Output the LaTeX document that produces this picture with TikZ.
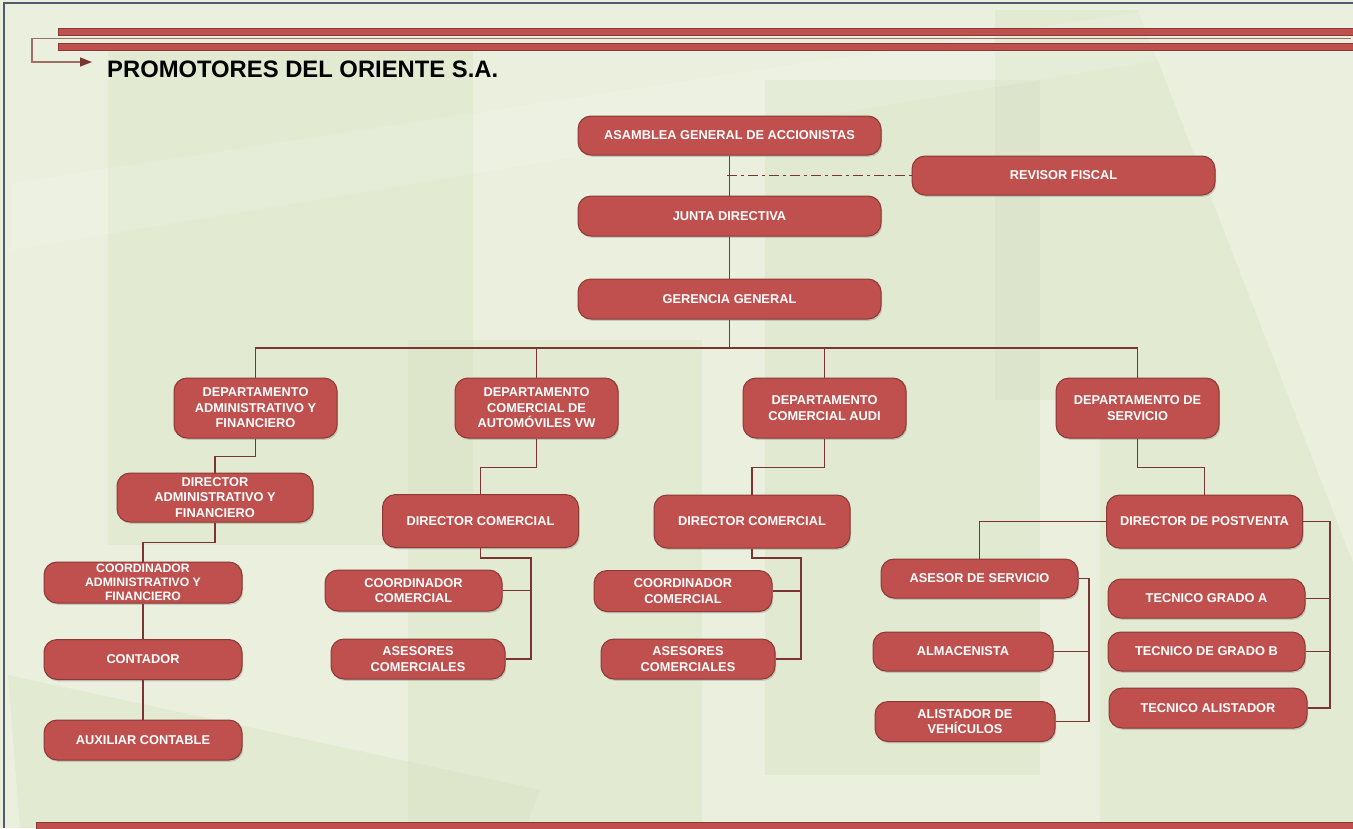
\documentclass[tikz,border=0pt]{standalone}
\usepackage{fontspec}
\setmainfont{Liberation Sans}
\usepackage{xcolor}
\usetikzlibrary{shapes, arrows, arrows.meta, shadows}
\definecolor{cajaRoja}{RGB}{192,80,77}
\definecolor{bordeRojo}{RGB}{140,56,54}
\definecolor{lineaRoja}{RGB}{122,52,50}
\definecolor{fondo}{RGB}{234,240,221}
\definecolor{panel}{RGB}{212,224,192}
\definecolor{marco}{RGB}{80,92,110}
\definecolor{franja}{RGB}{158,110,104}
\tikzstyle{cargo} = [rectangle, draw=bordeRojo, line width=1pt, fill=cajaRoja, rounded corners=13pt, text=white, align=center, font=\bfseries\fontsize{12.8}{15.5}\selectfont, minimum width=197pt, minimum height=40pt, inner sep=1pt, drop shadow={shadow xshift=1.2pt, shadow yshift=-1.8pt, opacity=0.35}]
\tikzstyle{depto} = [cargo, minimum width=163pt, minimum height=60pt]
\tikzstyle{conn} = [draw=lineaRoja, line width=1.2pt]

\begin{document}
\begin{tikzpicture}[x=1pt, y=-1pt]
    \useasboundingbox (0,0) rectangle (1353,828);
    \fill[fondo] (0,0) rectangle (1353,828);
    \fill[panel, opacity=0.35] (108,50) rectangle (473,545);
    \fill[panel, opacity=0.35] (408,340) rectangle (702,828);
    \fill[panel, opacity=0.40] (765,80) rectangle (1040,775);
    \fill[panel, opacity=0.35] (995,10) -- (1138,10) -- (1353,563) -- (1353,828) -- (1100,828) -- (1100,400) -- (995,400) -- cycle;
    \fill[panel, opacity=0.35] (8,675) -- (540,790) -- (525,828) -- (20,828) -- cycle;
    \fill[white, opacity=0.12] (12,183) -- (1140,12) -- (1160,60) -- (12,250) -- cycle;
    \draw[marco, line width=1.2pt] (4,828) -- (4,3) -- (1353,3);

    \draw[bordeRojo, fill=cajaRoja, line width=0.8pt] (58,28) rectangle (1356,35);
    \draw[bordeRojo, fill=cajaRoja, line width=0.8pt] (58,43) rectangle (1356,50);
    \draw[bordeRojo, fill=cajaRoja, line width=0.8pt] (36,822) rectangle (1356,832);
    \coordinate (bandStart) at (1351,38.7);
    \coordinate (bandCorner) at (32,62);
    \coordinate (bandEnd) at (92,62);
    \draw[franja, line width=1.5pt, -{Triangle[length=12pt, width=9pt, color=lineaRoja]}] (bandStart) -| (bandCorner) -- (bandEnd);
    \node(titulo)[anchor=base west, inner sep=0pt, font=\bfseries\fontsize{23.8}{28}\selectfont] at (107,77) {PROMOTORES DEL ORIENTE S.A.};

    \node(asamblea)[cargo, minimum width=303pt, minimum height=39pt] at (729.5,135.5) {ASAMBLEA GENERAL DE ACCIONISTAS};
    \node(revisor)[cargo, minimum width=303pt, minimum height=39pt] at (1063.5,175.5) {REVISOR FISCAL};
    \node(junta)[cargo, minimum width=303pt] at (729.5,216) {JUNTA DIRECTIVA};
    \node(gerencia)[cargo, minimum width=303pt] at (729.5,299) {GERENCIA GENERAL};

    \node(deptAdmin)[depto] at (255.5,408) {DEPARTAMENTO\\ADMINISTRATIVO Y\\FINANCIERO};
    \node(deptVW)[depto] at (536.5,408) {DEPARTAMENTO\\COMERCIAL DE\\AUTOMÓVILES VW};
    \node(deptAudi)[depto] at (824.5,408) {DEPARTAMENTO\\COMERCIAL AUDI};
    \node(deptServ)[depto] at (1137.5,408) {DEPARTAMENTO DE\\SERVICIO};

    \node(dirAdmin)[cargo, minimum width=196pt, minimum height=49pt] at (215,497.5) {DIRECTOR\\ADMINISTRATIVO Y\\FINANCIERO};
    \node(coordAdmin)[cargo, minimum width=198pt, minimum height=41pt, font=\bfseries\fontsize{12.2}{14}\selectfont] at (143,582.5) {COORDINADOR\\ADMINISTRATIVO Y\\FINANCIERO};
    \node(contador)[cargo, minimum width=198pt] at (143,659.5) {CONTADOR};
    \node(auxiliar)[cargo, minimum width=198pt] at (143,740) {AUXILIAR CONTABLE};

    \node(dirVW)[cargo, minimum width=196pt, minimum height=53pt] at (480.5,521) {DIRECTOR COMERCIAL};
    \node(coordVW)[cargo, minimum width=177pt, minimum height=41pt] at (413.5,590.5) {COORDINADOR\\COMERCIAL};
    \node(asesVW)[cargo, minimum width=174pt] at (418,659) {ASESORES\\COMERCIALES};

    \node(dirAudi)[cargo, minimum width=196pt, minimum height=53pt] at (752,521.5) {DIRECTOR COMERCIAL};
    \node(coordAudi)[cargo, minimum width=178pt, minimum height=41pt] at (683,591) {COORDINADOR\\COMERCIAL};
    \node(asesAudi)[cargo, minimum width=174pt] at (688,659) {ASESORES\\COMERCIALES};

    \node(dirPost)[cargo, minimum width=196pt, minimum height=53pt] at (1204.5,521.5) {DIRECTOR DE POSTVENTA};
    \node(asesServ)[cargo, minimum height=39pt] at (979.5,578.5) {ASESOR DE SERVICIO};
    \node(almacen)[cargo, minimum width=180pt, minimum height=39pt] at (963,651.5) {ALMACENISTA};
    \node(alistador)[cargo, minimum width=180pt] at (965,721.5) {ALISTADOR DE\\VEHÍCULOS};
    \node(tecA)[cargo, minimum height=39pt] at (1206.5,598.5) {TECNICO GRADO A};
    \node(tecB)[cargo, minimum height=39pt] at (1206.5,651.5) {TECNICO DE GRADO B};
    \node(tecAlist)[cargo, minimum width=198pt] at (1208,708) {TECNICO ALISTADOR};

    \coordinate (fiscalTap) at (727,175.5);
    \coordinate (bus) at (729.5,348);
    \coordinate (vwRail) at (531,558);
    \coordinate (audiRail) at (801,558);
    \coordinate (servRail) at (1089,721.5);
    \coordinate (tecRail) at (1330,708);

    \draw[conn] (asamblea) -- (junta);
    \draw[conn, dash pattern=on 10pt off 4pt on 3pt off 4pt] (fiscalTap) -- (revisor);
    \draw[conn] (junta) -- (gerencia);
    \draw[conn] (gerencia) -- (bus);
    \draw[conn] (bus) -| (deptAdmin);
    \draw[conn] (bus) -| (deptVW);
    \draw[conn] (bus) -| (deptAudi);
    \draw[conn] (bus) -| (deptServ);

    \draw[conn] (deptAdmin.south) -- ++(0,18) -| (dirAdmin.north);
    \draw[conn] (dirAdmin.south) -- ++(0,20) -| (coordAdmin.north);
    \draw[conn] (coordAdmin) -- (contador);
    \draw[conn] (contador) -- (auxiliar);

    \draw[conn] (deptVW.south) -- ++(0,29) -| (dirVW.north);
    \draw[conn] (dirVW.south) |- (vwRail) |- (asesVW.east);
    \draw[conn] (coordVW.east) -| (vwRail);

    \draw[conn] (deptAudi.south) -- ++(0,29) -| (dirAudi.north);
    \draw[conn] (dirAudi.south) |- (audiRail) |- (asesAudi.east);
    \draw[conn] (coordAudi.east) -| (audiRail);

    \draw[conn] (deptServ.south) -- ++(0,29) -| (dirPost.north);
    \draw[conn] (dirPost.west) -| (asesServ.north);
    \draw[conn] (asesServ.east) -| (servRail) -- (alistador.east);
    \draw[conn] (almacen.east) -| (servRail);
    \draw[conn] (dirPost.east) -| (tecRail) -- (tecAlist.east);
    \draw[conn] (tecA.east) -| (tecRail);
    \draw[conn] (tecB.east) -| (tecRail);
\end{tikzpicture}
\end{document}
